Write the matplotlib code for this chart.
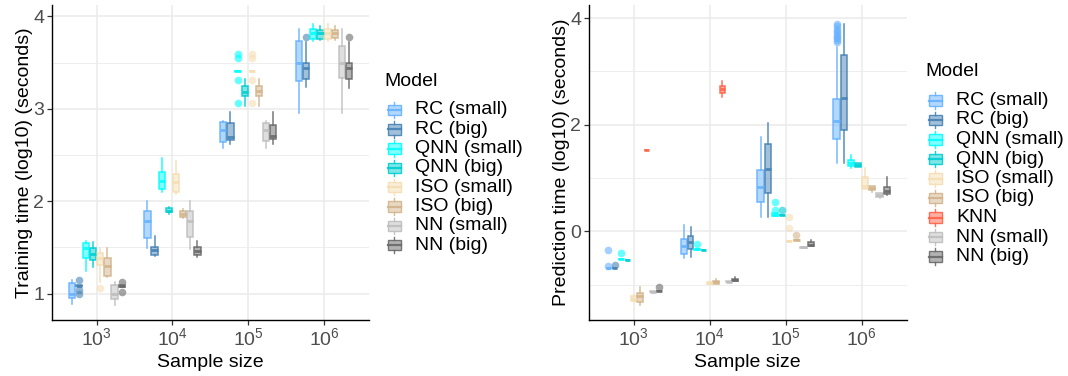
import numpy as np
import matplotlib
matplotlib.use("Agg")
import matplotlib.pyplot as plt
from matplotlib.patches import Rectangle
from matplotlib.lines import Line2D

plt.rcParams['font.family'] = ['Liberation Sans', 'DejaVu Sans']
plt.rcParams['mathtext.fontset'] = 'custom'
plt.rcParams['mathtext.rm'] = 'Liberation Sans'
plt.rcParams['mathtext.it'] = 'Liberation Sans:italic'

# ---------------- data ----------------
sizes = [1e3, 1e4, 1e5, 1e6]
size_labels = [r'$\mathregular{10^{3}}$', r'$\mathregular{10^{4}}$',
               r'$\mathregular{10^{5}}$', r'$\mathregular{10^{6}}$']

train_models = ['RC (small)', 'RC (big)', 'QNN (small)', 'QNN (big)',
                'ISO (small)', 'ISO (big)', 'NN (small)', 'NN (big)']
pred_models = ['RC (small)', 'RC (big)', 'QNN (small)', 'QNN (big)',
               'ISO (small)', 'ISO (big)', 'KNN', 'NN (small)', 'NN (big)']

colors = {
    'RC (small)': '#66B2FF', 'RC (big)': '#4682B4',
    'QNN (small)': '#00FFFF', 'QNN (big)': '#00CED1',
    'ISO (small)': '#F5DEB3', 'ISO (big)': '#D2B48C',
    'KNN': '#FF6347',
    'NN (small)': '#BEBEBE', 'NN (big)': '#696969',
}

# five-number summaries (whisker low, q1, median, q3, whisker high), log10 seconds
train_rc_small = [(0.89, 0.95, 1.00, 1.12, 1.15), (1.49, 1.60, 1.79, 1.90, 2.00),
                  (2.58, 2.645, 2.77, 2.86, 2.87), (2.96, 3.30, 3.50, 3.73, 3.865)]
train_rc_big = [(1.08, 1.08, 1.085, 1.095, 1.095), (1.41, 1.42, 1.47, 1.51, 1.62),
                (2.62, 2.66, 2.70, 2.845, 2.965), (3.24, 3.32, 3.445, 3.50, 3.725)]
train_qnn_small = [(1.24, 1.39, 1.49, 1.545, 1.565), (2.10, 2.13, 2.22, 2.315, 2.465),
                   (3.41, 3.405, 3.41, 3.415, 3.415), (3.73, 3.755, 3.82, 3.86, 3.92)]
train_qnn_big = [(1.29, 1.365, 1.43, 1.49, 1.56), (1.86, 1.88, 1.90, 1.925, 1.94),
                 (3.03, 3.14, 3.185, 3.25, 3.32), (3.74, 3.76, 3.82, 3.85, 3.90)]
train_iso_small = [(1.13, 1.31, 1.385, 1.445, 1.49), (2.08, 2.10, 2.205, 2.30, 2.44),
                   (3.41, 3.405, 3.41, 3.415, 3.415), (3.735, 3.76, 3.82, 3.86, 3.92)]
train_iso_big = [(1.18, 1.19, 1.30, 1.39, 1.49), (1.82, 1.83, 1.86, 1.89, 1.92),
                 (3.03, 3.14, 3.19, 3.25, 3.32), (3.745, 3.77, 3.82, 3.85, 3.90)]
train_nn_small = [(0.88, 0.94, 1.00, 1.095, 1.13), (1.48, 1.61, 1.79, 1.895, 2.00),
                  (2.58, 2.655, 2.77, 2.845, 2.87), (2.96, 3.33, 3.50, 3.685, 3.865)]
train_nn_big = [(1.075, 1.075, 1.08, 1.09, 1.09), (1.40, 1.42, 1.465, 1.50, 1.57),
                (2.62, 2.67, 2.705, 2.82, 2.965), (3.23, 3.32, 3.44, 3.50, 3.725)]

train_rc_big_out = [[1.145, 1.04, 1.00], [], [], [3.775]]
train_qnn_small_out = [[], [], [3.595, 3.555, 3.315, 3.065], []]
train_iso_small_out = [[1.06], [], [3.595, 3.555, 3.315, 3.065], []]
train_nn_big_out = [[1.13, 1.02], [], [], [3.775]]

pred_rc_small = [(-0.695, -0.695, -0.69, -0.685, -0.685), (-0.51, -0.43, -0.275, -0.15, 0.12),
                 (0.26, 0.545, 0.84, 1.15, 1.76), (1.275, 1.725, 2.075, 2.475, 3.45)]
pred_rc_big = [(-0.69, -0.69, -0.69, -0.685, -0.685), (-0.475, -0.34, -0.21, -0.09, 0.075),
               (0.275, 0.71, 1.17, 1.64, 2.025), (1.275, 1.90, 2.505, 3.31, 3.89)]
pred_qnn_small = [(-0.52, -0.525, -0.52, -0.515, -0.515), (-0.34, -0.345, -0.34, -0.335, -0.335),
                  (0.29, 0.29, 0.31, 0.34, 0.34), (1.18, 1.23, 1.275, 1.34, 1.43)]
pred_qnn_big = [(-0.54, -0.545, -0.54, -0.535, -0.535), (-0.35, -0.355, -0.35, -0.345, -0.345),
                (0.31, 0.305, 0.31, 0.315, 0.315), (1.21, 1.21, 1.25, 1.29, 1.29)]
pred_iso_small = [(-1.32, -1.30, -1.27, -1.21, -1.19), (-0.99, -0.99, -0.975, -0.96, -0.96),
                  (-0.185, -0.185, -0.18, -0.175, -0.175), (0.79, 0.79, 0.85, 1.025, 1.18)]
pred_iso_big = [(-1.39, -1.32, -1.21, -1.15, -1.05), (-0.99, -0.99, -0.95, -0.925, -0.90),
                (-0.165, -0.165, -0.16, -0.155, -0.155), (0.74, 0.775, 0.82, 0.855, 0.855)]
pred_knn = [(1.52, 1.52, 1.525, 1.53, 1.53), (2.51, 2.59, 2.66, 2.725, 2.81), None, None]
pred_nn_small = [(-1.135, -1.135, -1.13, -1.125, -1.125), (-0.95, -0.95, -0.945, -0.94, -0.94),
                 (-0.305, -0.305, -0.30, -0.295, -0.295), (0.62, 0.64, 0.68, 0.725, 0.725)]
pred_nn_big = [(-1.125, -1.125, -1.12, -1.115, -1.115), (-0.94, -0.94, -0.92, -0.90, -0.86),
               (-0.275, -0.275, -0.25, -0.21, -0.16), (0.68, 0.70, 0.755, 0.84, 1.01)]

pred_rc_small_out = [[-0.35, -0.65], [], [],
                     [3.55, 3.58, 3.62, 3.65, 3.68, 3.72, 3.76, 3.80, 3.85, 3.88]]
pred_rc_big_out = [[-0.64], [], [], []]
pred_qnn_small_out = [[-0.41], [-0.24], [0.55, 0.40], []]
pred_qnn_big_out = [[], [], [0.40], []]
pred_iso_small_out = [[], [], [0.26, 0.06], []]
pred_iso_big_out = [[], [], [-0.075], []]
pred_nn_big_out = [[-1.05], [], [], []]

train_stats = {'RC (small)': train_rc_small, 'RC (big)': train_rc_big,
               'QNN (small)': train_qnn_small, 'QNN (big)': train_qnn_big,
               'ISO (small)': train_iso_small, 'ISO (big)': train_iso_big,
               'NN (small)': train_nn_small, 'NN (big)': train_nn_big}
train_out = {'RC (big)': train_rc_big_out, 'QNN (small)': train_qnn_small_out,
             'ISO (small)': train_iso_small_out, 'NN (big)': train_nn_big_out}
pred_stats = {'RC (small)': pred_rc_small, 'RC (big)': pred_rc_big,
              'QNN (small)': pred_qnn_small, 'QNN (big)': pred_qnn_big,
              'ISO (small)': pred_iso_small, 'ISO (big)': pred_iso_big,
              'KNN': pred_knn,
              'NN (small)': pred_nn_small, 'NN (big)': pred_nn_big}
pred_out = {'RC (small)': pred_rc_small_out, 'RC (big)': pred_rc_big_out,
            'QNN (small)': pred_qnn_small_out, 'QNN (big)': pred_qnn_big_out,
            'ISO (small)': pred_iso_small_out, 'ISO (big)': pred_iso_big_out,
            'NN (big)': pred_nn_big_out}

# ---------------- drawing ----------------
W, H = 1068, 376
fig = plt.figure(figsize=(W / 100, H / 100), dpi=100)
FS = 14
GRID = '#EBEBEB'
DODGE = 0.755


def make_axes(l, r, b, t):
    return fig.add_axes([l / W, 1 - b / H, (r - l) / W, (b - t) / H])


def draw_panel(ax, models, stats, outs, ylim, yticks, yminor, ylabel):
    for j, s in enumerate(sizes):
        present = [m for m in models if stats[m][j] is not None]
        n = len(present)
        slot = DODGE / n
        for i, m in enumerate(present):
            lo, q1, med, q3, hi = stats[m][j]
            fl = outs.get(m, [[]] * 4)[j]
            pos = np.log10(s) + (i - (n - 1) / 2) * slot
            c = colors[m]
            st = [dict(med=med, q1=q1, q3=q3, whislo=lo, whishi=hi, fliers=np.array(fl))]
            ax.bxp(st, positions=[pos], widths=slot * 0.88, patch_artist=True,
                   showcaps=False, manage_ticks=False,
                   boxprops=dict(facecolor=matplotlib.colors.to_rgba(c, 0.5),
                                 edgecolor=matplotlib.colors.to_rgba(c, 0.9), linewidth=1.1),
                   medianprops=dict(color=matplotlib.colors.to_rgba(c, 0.9), linewidth=2.0),
                   whiskerprops=dict(color=matplotlib.colors.to_rgba(c, 0.9), linewidth=1.1),
                   flierprops=dict(marker='o', markersize=5.5, markeredgewidth=0,
                                   markerfacecolor=matplotlib.colors.to_rgba(c, 0.6)),
                   zorder=3)
    ax.set_xlim(2.406, 6.594)
    ax.set_ylim(*ylim)
    ax.set_xticks(np.log10(sizes))
    ax.set_xticklabels(size_labels)
    ax.set_yticks(yticks)
    ax.set_yticklabels([f'{v:g}' for v in yticks])
    ax.set_yticks(yminor, minor=True)
    ax.tick_params(axis='y', which='minor', length=0)
    ax.grid(True, which='major', color=GRID, lw=1.1, zorder=0)
    ax.grid(True, which='minor', axis='y', color=GRID, lw=0.6, zorder=0)
    ax.set_axisbelow(True)
    for sp in ('top', 'right'):
        ax.spines[sp].set_visible(False)
    for sp in ('left', 'bottom'):
        ax.spines[sp].set_color('black')
        ax.spines[sp].set_linewidth(1.0)
    ax.tick_params(which='major', length=3.5, width=0.9, color='#333333',
                   labelsize=FS, labelcolor='#4D4D4D', pad=2)
    ax.set_xlabel('Sample size', fontsize=FS, labelpad=3)
    ax.set_ylabel(ylabel, fontsize=FS, labelpad=0)


ax1 = make_axes(51.7, 369, 320, 5)
draw_panel(ax1, train_models, train_stats, train_out, (0.715, 4.124),
           [1, 2, 3, 4], [1.5, 2.5, 3.5], 'Training time (log10) (seconds)')

ax2 = make_axes(588.7, 906.7, 320, 5)
draw_panel(ax2, pred_models, pred_stats, pred_out, (-1.664, 4.245),
           [0, 2, 4], [-1, 1, 3], 'Prediction time (log10) (seconds)')

# ---------------- legends (drawn in pixel space) ----------------
ov = fig.add_axes([0, 0, 1, 1], zorder=10)
ov.set_xlim(0, W)
ov.set_ylim(H, 0)
ov.axis('off')


def legend(models, x0, ytitle, y0, dy):
    ov.text(x0, ytitle, 'Model', fontsize=FS, va='center', ha='left')
    for i, m in enumerate(models):
        cy = y0 + i * dy
        c = colors[m]
        kx = x0 + 4
        ec = matplotlib.colors.to_rgba(c, 0.9)
        ov.add_patch(Rectangle((kx - 0.5, cy - 5.2), 13.4, 10.4,
                               facecolor=matplotlib.colors.to_rgba(c, 0.5),
                               edgecolor=ec, lw=1.0))
        ov.add_line(Line2D([kx - 0.5, kx + 12.9], [cy, cy], color=ec, lw=1.6))
        ov.add_line(Line2D([kx + 6.2, kx + 6.2], [cy - 8.2, cy - 5.2], color=ec, lw=1.0))
        ov.add_line(Line2D([kx + 6.2, kx + 6.2], [cy + 5.2, cy + 8.2], color=ec, lw=1.0))
        ov.text(x0 + 31, cy, m, fontsize=FS, va='center', ha='left')


legend(train_models, 384, 81.7, 110, 19.3)
legend(pred_models, 925, 71.7, 100.5, 19.5)

fig.savefig('out.png', dpi=100)
